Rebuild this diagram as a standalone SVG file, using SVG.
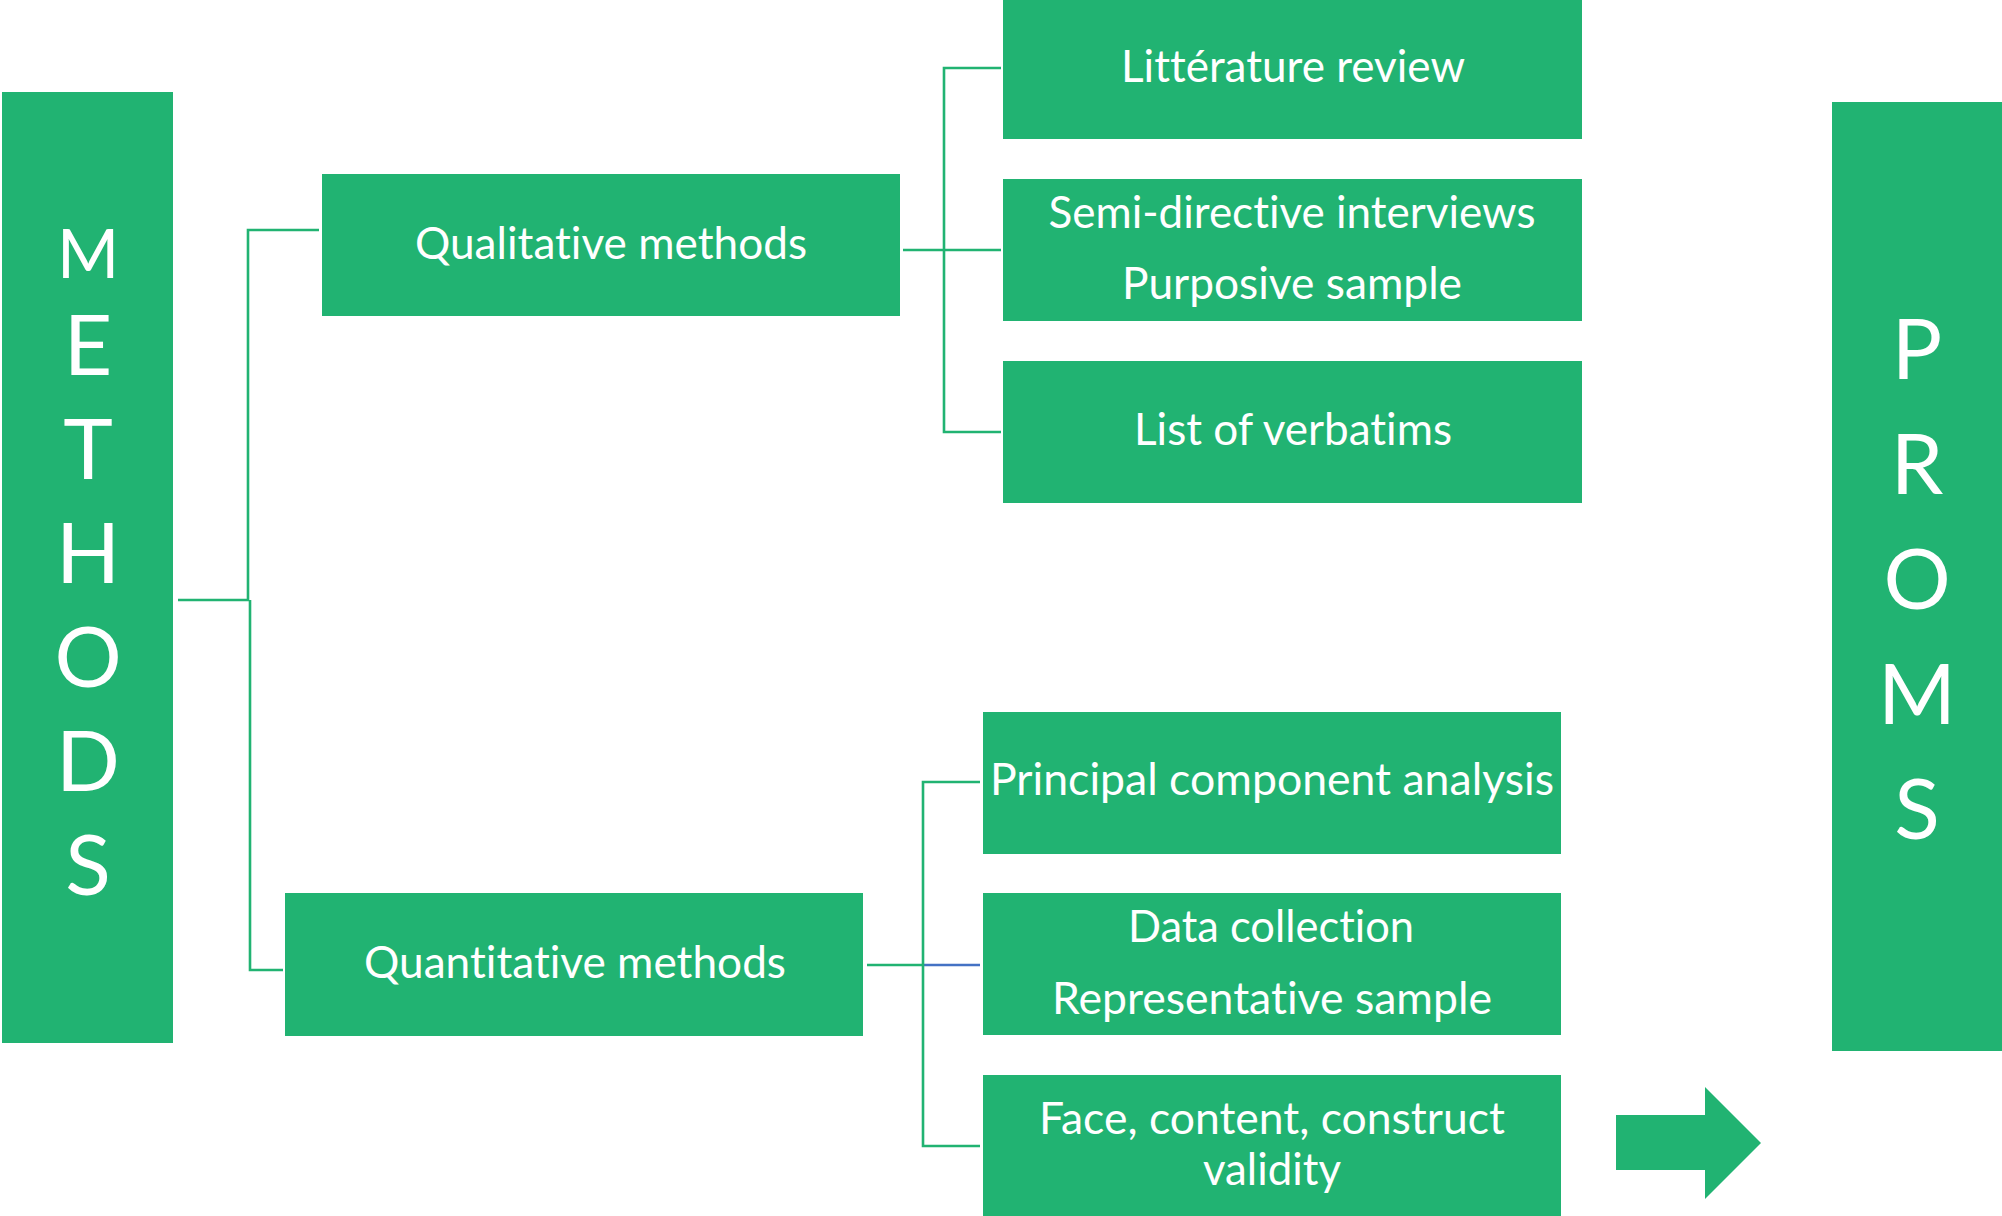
<svg xmlns="http://www.w3.org/2000/svg" width="2002" height="1216" viewBox="0 0 2002 1216">
<style>
.box{fill:#21B372;}
.t{font-family:Lato,"Open Sans","Liberation Sans",sans-serif;fill:#FFFFFF;text-anchor:middle;font-size:45px;font-variant-ligatures:none;font-feature-settings:"liga" 0,"clig" 0,"dlig" 0;}
.big{font-size:84px;}
.mid{font-size:67px;}
.c{fill:none;stroke:#21B372;stroke-width:2.6;}
.cb{fill:none;stroke:#4472C4;stroke-width:2.6;}
</style>
<rect width="2002" height="1216" fill="#FFFFFF"/>
<g id="connectors">
<path class="c" d="M178 600 H248 V230 H319"/>
<path class="c" d="M250 600 V970 H283"/>
<path class="c" d="M903 250 H1001"/>
<path class="c" d="M1001 68 H944 V432 H1001"/>
<path class="c" d="M867 965 H923"/>
<path class="cb" d="M923 965 H980"/>
<path class="c" d="M980 782 H923 V1146 H980"/>
</g>
<g id="methods">
<rect class="box" x="2" y="92" width="171" height="951"/>
<text class="t mid" x="88" y="278">M</text>
<text class="t big" x="88" y="375">E</text>
<text class="t big" x="88" y="479">T</text>
<text class="t big" x="88" y="583">H</text>
<text class="t big" x="88" y="687">O</text>
<text class="t big" x="88" y="791">D</text>
<text class="t big" x="88" y="895">S</text>
</g>
<g id="qualitative">
<rect class="box" x="322" y="174" width="578" height="142"/>
<text class="t" x="611" y="259" textLength="392" lengthAdjust="spacingAndGlyphs">Qualitative methods</text>
</g>
<g id="quantitative">
<rect class="box" x="285" y="893" width="578" height="143"/>
<text class="t" x="575" y="978" textLength="422" lengthAdjust="spacingAndGlyphs">Quantitative methods</text>
</g>
<g id="literature">
<rect class="box" x="1003" y="0" width="579" height="139"/>
<text class="t" x="1293" y="82" textLength="344" lengthAdjust="spacingAndGlyphs">Littérature review</text>
</g>
<g id="interviews">
<rect class="box" x="1003" y="179" width="579" height="142"/>
<text class="t" x="1292" y="228" textLength="487" lengthAdjust="spacingAndGlyphs">Semi-directive interviews</text>
<text class="t" x="1292" y="299" textLength="340" lengthAdjust="spacingAndGlyphs">Purposive sample</text>
</g>
<g id="verbatims">
<rect class="box" x="1003" y="361" width="579" height="142"/>
<text class="t" x="1293" y="445" textLength="318" lengthAdjust="spacingAndGlyphs">List of verbatims</text>
</g>
<g id="pca">
<rect class="box" x="983" y="712" width="578" height="142"/>
<text class="t" x="1272" y="795" textLength="564" lengthAdjust="spacingAndGlyphs">Principal component analysis</text>
</g>
<g id="data">
<rect class="box" x="983" y="893" width="578" height="142"/>
<text class="t" x="1271" y="942" textLength="286" lengthAdjust="spacingAndGlyphs">Data collection</text>
<text class="t" x="1272" y="1014" textLength="440" lengthAdjust="spacingAndGlyphs">Representative sample</text>
</g>
<g id="validity">
<rect class="box" x="983" y="1075" width="578" height="141"/>
<text class="t" x="1272" y="1134" textLength="466" lengthAdjust="spacingAndGlyphs">Face, content, construct</text>
<text class="t" x="1272" y="1185" textLength="138" lengthAdjust="spacingAndGlyphs">validity</text>
</g>
<g id="arrow">
<polygon class="box" points="1616,1115 1705,1115 1705,1087 1761,1143 1705,1199 1705,1170 1616,1170"/>
</g>
<g id="proms">
<rect class="box" x="1832" y="102" width="170" height="949"/>
<text class="t big" x="1917" y="379">P</text>
<text class="t big" x="1917" y="494">R</text>
<text class="t big" x="1917" y="609">O</text>
<text class="t big" x="1917" y="724">M</text>
<text class="t big" x="1917" y="839">S</text>
</g>
</svg>
